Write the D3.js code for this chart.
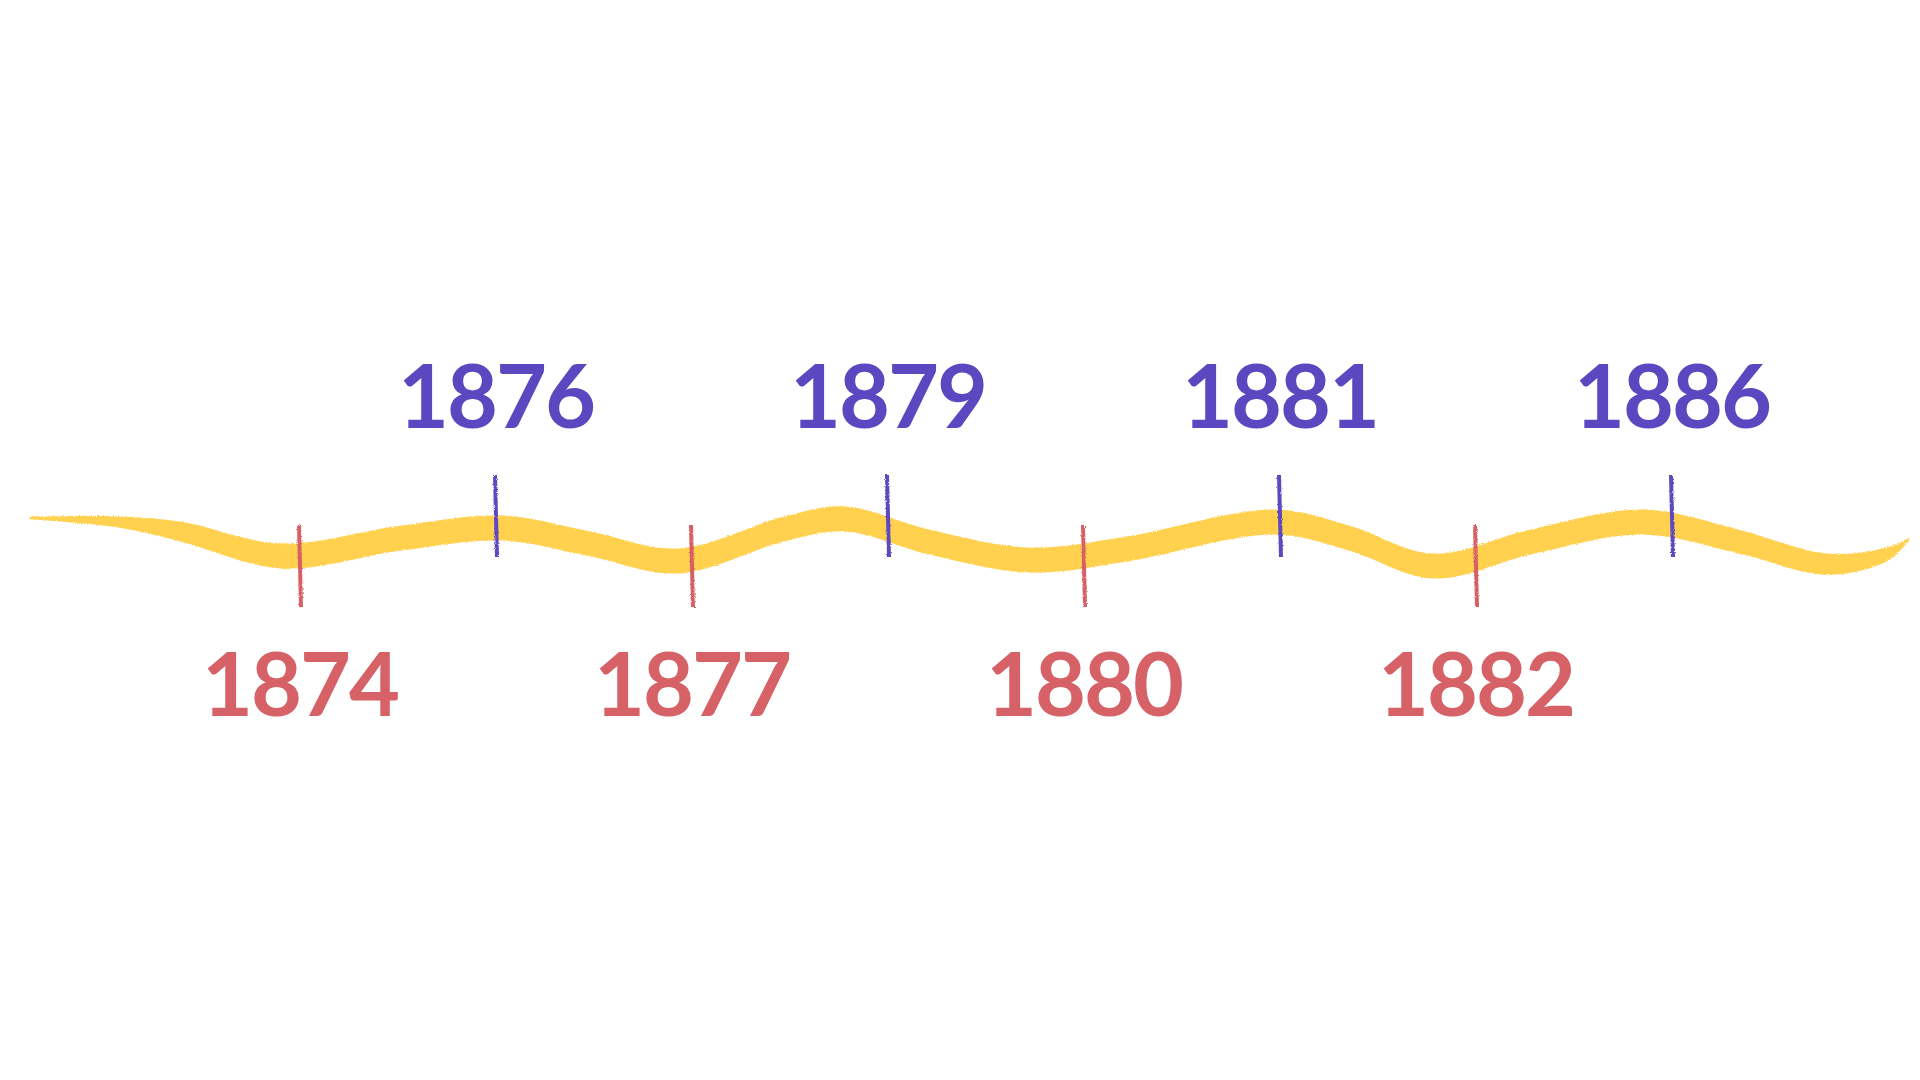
<!DOCTYPE html>
<html>
<head>
<meta charset="utf-8">
<title>Timeline 1874 - 1886</title>
<script src="https://cdnjs.cloudflare.com/ajax/libs/d3/7.8.5/d3.min.js"></script>
<style>
  html, body { margin: 0; padding: 0; background: #fff; }
  svg { display: block; }
  .year { font-family: Lato, "Open Sans", sans-serif; font-weight: 700; letter-spacing: -2px; }
</style>
</head>
<body>
<script>
// events along the timeline, in order
var years = ["1874", "1876", "1877", "1879", "1880", "1881", "1882", "1886"];
// which side of the line the label sits on
var sides = ["below", "above", "below", "above", "below", "above", "below", "above"];

// the painted wave: position (in event steps), height (-1..1), stroke thickness (0..1)
var waveT = [-1.38, -0.92, -0.60, -0.10, 0.52, 1.03, 1.46, 1.93, 2.47, 2.78, 3.21, 3.72, 4.22, 4.97, 5.35, 5.78, 6.28, 6.85, 7.35, 7.79, 8.10, 8.21];
var waveY = [1.0, 0.83, 0.42, -0.58, 0.17, 0.58, -0.04, -0.79, 0.54, 0.96, 0, -0.75, -0.29, 0.83, 0.17, -1.0, 0, 0.83, 0, -0.92, -0.5, 0.13];
var waveW = [0.1, 0.45, 0.8, 1, 1, 1, 1, 1, 1, 1, 1, 1, 1, 1, 1, 1, 1, 1, 0.95, 0.85, 0.55, 0.1];

var width = 1920, height = 1080;
var colors = { above: "#5B48C0", below: "#D66166" };

var svg = d3.select("body").append("svg")
  .attr("width", width)
  .attr("height", height);

// rough edges for the brush
var defs = svg.append("defs");
var f = defs.append("filter").attr("id", "rough")
  .attr("x", "-5%").attr("y", "-50%").attr("width", "110%").attr("height", "200%");
f.append("feTurbulence").attr("type", "fractalNoise").attr("baseFrequency", "0.9").attr("numOctaves", 2).attr("result", "n");
f.append("feDisplacementMap").attr("in", "SourceGraphic").attr("in2", "n").attr("scale", 3);

var x = d3.scaleLinear().domain([0, years.length - 1]).range([300, 1672]);
var y = d3.scaleLinear().domain([-1, 1]).range([566, 518]);
var thick = d3.scaleLinear().domain([0, 1]).range([0, 12.5]);

var wave = waveT.map(function(t, i) { return { t: t, v: waveY[i], w: waveW[i] }; });

var area = d3.area()
  .x(function(d) { return x(d.t); })
  .y0(function(d) { return y(d.v) - thick(d.w); })
  .y1(function(d) { return y(d.v) + thick(d.w); })
  .curve(d3.curveCatmullRom.alpha(0.5));

svg.append("path")
  .datum(wave)
  .attr("d", area)
  .attr("fill", "#FFD150")
  .attr("filter", "url(#rough)");

// tick marks
var ticks = svg.append("g").attr("filter", "url(#rough)");
ticks.selectAll("line")
  .data(years)
  .enter().append("line")
  .attr("x1", function(d, i) { return x(i) - 1; })
  .attr("x2", function(d, i) { return x(i) + 1; })
  .attr("y1", function(d, i) { return sides[i] == "above" ? 475 : 525; })
  .attr("y2", function(d, i) { return sides[i] == "above" ? 557 : 607; })
  .attr("stroke", function(d, i) { return colors[sides[i]]; })
  .attr("stroke-width", 4);

// year labels
svg.selectAll("text.year")
  .data(years)
  .enter().append("text")
  .attr("class", "year")
  .attr("x", function(d, i) { return x(i); })
  .attr("y", function(d, i) { return sides[i] == "above" ? 428 : 716; })
  .attr("text-anchor", "middle")
  .attr("font-size", 88)
  .attr("fill", function(d, i) { return colors[sides[i]]; })
  .text(function(d) { return d; });
</script>
</body>
</html>
